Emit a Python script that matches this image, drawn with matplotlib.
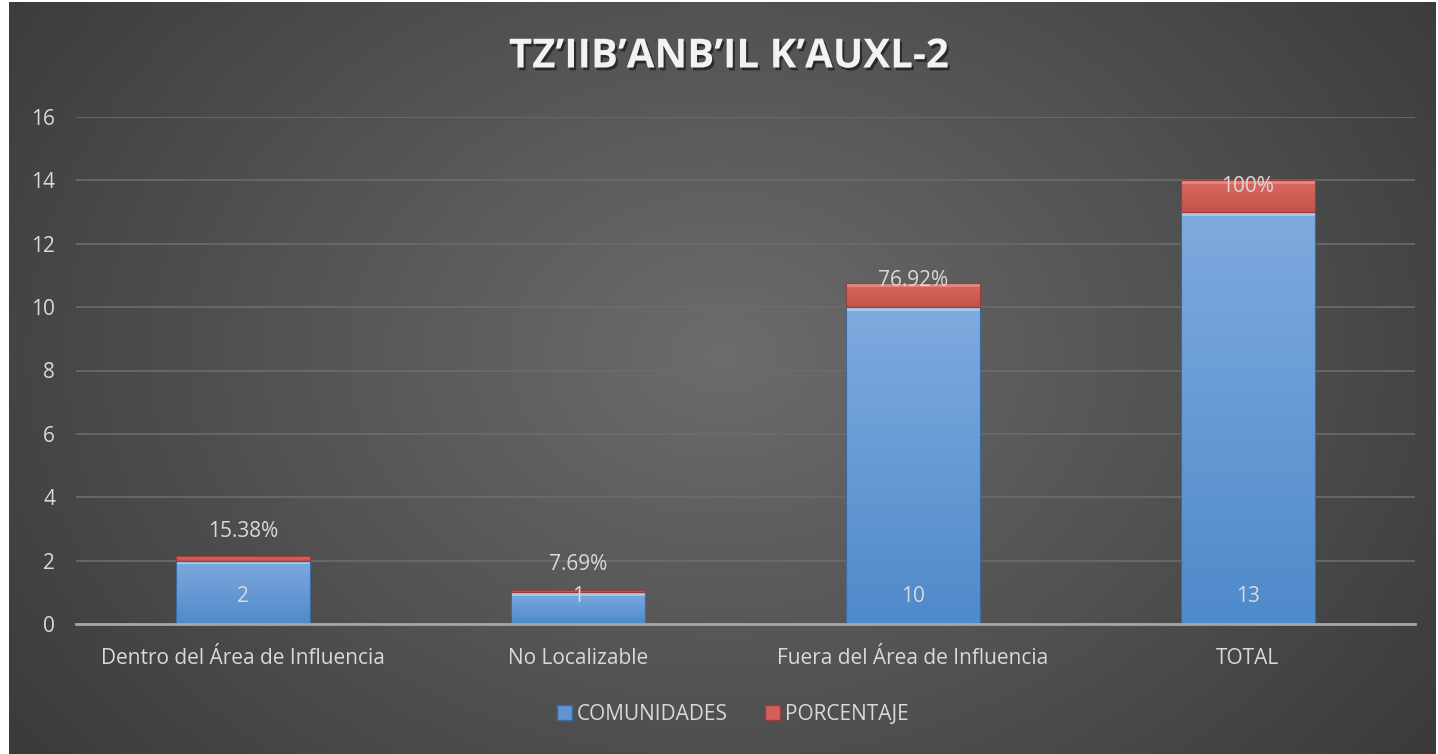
import numpy as np
import matplotlib
matplotlib.use("Agg")
import matplotlib.pyplot as plt
import matplotlib.patheffects as pe
from matplotlib.colors import LinearSegmentedColormap
from matplotlib.patches import Rectangle

categories = ["Dentro del Área de Influencia", "No Localizable", "Fuera del Área de Influencia", "TOTAL"]
comunidades = [2, 1, 10, 13]
porcentaje = [0.1538, 0.0769, 0.7692, 1.0]
porcentaje_labels = ["15.38%", "7.69%", "76.92%", "100%"]
pct_label_offsets_px = [24, 25, 2, -6]
title = "TZ’IIB’ANB’IL K’AUXL-2"
series_names = ["COMUNIDADES", "PORCENTAJE"]
yticks = [0, 2, 4, 6, 8, 10, 12, 14, 16]

W, H = 1438, 754
fig = plt.figure(figsize=(W / 100, H / 100), dpi=100)
fig.patch.set_facecolor("white")

# background radial gradient
bg = fig.add_axes([9 / W, 0, (1436 - 9) / W, 752 / H])
bg.set_axis_off()
yy, xx = np.mgrid[0:300, 0:600]
cx, cy = 300, 140
d = np.sqrt(((xx - cx) / 420.0) ** 2 + ((yy - cy) / 300.0) ** 2)
d = np.clip(d, 0, 1)
c_center = np.array([0x6c, 0x6c, 0x6c]) / 255
c_edge = np.array([0x34, 0x34, 0x34]) / 255
img = c_center[None, None, :] * (1 - d[..., None]) + c_edge[None, None, :] * d[..., None]
bg.imshow(img, aspect="auto", extent=[0, 1, 0, 1], origin="upper")
bg.set_xlim(0, 1)
bg.set_ylim(0, 1)

ax = fig.add_axes([76 / W, 130 / H, (1415 - 76) / W, (624 - 117) / H])
ax.patch.set_alpha(0)
x = np.arange(len(categories))
bw = 0.4

blue_cmap = LinearSegmentedColormap.from_list("b", ["#4f8acb", "#7eaade"])
red_cmap = LinearSegmentedColormap.from_list("r", ["#c4524b", "#dc6a62"])
grad = np.linspace(0, 1, 100).reshape(-1, 1)

b1 = ax.bar(x, comunidades, bw, color="#5e95d2", edgecolor="#3a6aa0", linewidth=0.6, zorder=3)
b2 = ax.bar(x, porcentaje, bw, bottom=comunidades, color="#d4605a", edgecolor="#9a3c38", linewidth=0.6, zorder=3)

for bars, cmap, light in ((b1, blue_cmap, "#c4e0fb"), (b2, red_cmap, "#f0a098")):
    for p in bars:
        x0, y0 = p.get_x(), p.get_y()
        w, h = p.get_width(), p.get_height()
        im = ax.imshow(grad, cmap=cmap, aspect="auto", origin="lower",
                       extent=[x0, x0 + w, y0, y0 + h], zorder=3.5)
        im.set_clip_path(p)
        hb = min(0.12, h * 0.35)
        ax.add_patch(Rectangle((x0, y0 + h - hb), w, hb, facecolor=light, alpha=0.55,
                               edgecolor="none", zorder=3.6))
        ax.add_patch(Rectangle((x0, y0), w, h, facecolor="none", edgecolor=p.get_edgecolor(),
                               linewidth=0.8, zorder=3.7))

ax.set_xlim(-0.5, len(categories) - 0.5)
ax.set_ylim(0, 16)
ax.set_yticks(yticks)
ax.set_xticks(x)
ax.set_xticklabels(categories)
font = "Open Sans"
txtc = "#d9d9d9"
fs = 15
for lab in ax.get_xticklabels() + ax.get_yticklabels():
    lab.set_fontfamily(font)
    lab.set_fontsize(fs)
    lab.set_color(txtc)
ax.tick_params(axis="both", length=0)
ax.tick_params(axis="y", pad=15)
ax.tick_params(axis="x", pad=17)
ax.grid(axis="y", color="#6c6c6c", linewidth=1.2, zorder=0)
for s in ["top", "right", "left"]:
    ax.spines[s].set_visible(False)
ax.spines["bottom"].set_color("#a6a6a6")
ax.spines["bottom"].set_linewidth(2)
ax.spines["bottom"].set_zorder(4)

for xi, v in zip(x, comunidades):
    ax.annotate(str(v), (xi, 0), xytext=(0, 27 * 0.72), textcoords="offset points",
                ha="center", va="center", fontsize=fs, color=txtc, family=font, zorder=5)

for xi, c, p, lab, off in zip(x, comunidades, porcentaje, porcentaje_labels, pct_label_offsets_px):
    ax.annotate(lab, (xi, c + p), xytext=(0, off * 0.72), textcoords="offset points",
                ha="center", va="center", fontsize=fs, color=txtc, family=font, zorder=5)

fig.text(729 / W, 1 - 57 / H, title, ha="center", va="center", fontsize=29,
         fontweight="bold", family=font, color="#f2f2f2",
         path_effects=[pe.withSimplePatchShadow(offset=(1.5, -2), shadow_rgbFace="black", alpha=0.5)])

handles = [Rectangle((0, 0), 1, 1, facecolor="#5e95d2", edgecolor="#3a6aa0"),
           Rectangle((0, 0), 1, 1, facecolor="#d4605a", edgecolor="#9a3c38")]
leg = fig.legend(handles, series_names, loc="center", bbox_to_anchor=(733 / W, 1 - 714 / H),
                 ncol=2, frameon=False, handlelength=0.7, handleheight=0.7, handletextpad=0.25,
                 columnspacing=1.8, prop={"family": font, "size": fs})
for t in leg.get_texts():
    t.set_color(txtc)

fig.savefig("out.png", dpi=100, facecolor=fig.get_facecolor())
